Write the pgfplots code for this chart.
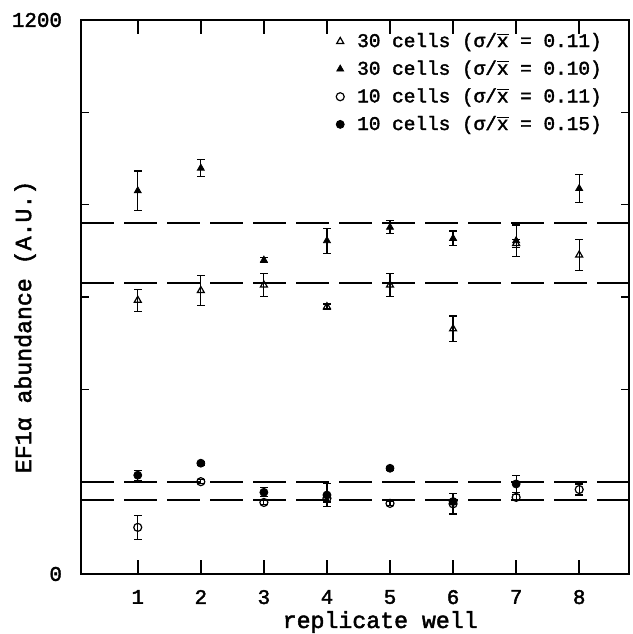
\documentclass[border=0pt]{standalone}
\usepackage{pgfplots}
\pgfplotsset{compat=1.18}
\usepackage{fontspec}
\setmainfont{Liberation Mono}[FakeBold=2]
\usetikzlibrary{calc}
\begin{document}
\begin{tikzpicture}
\begin{axis}[
  name=ax,
  scale only axis,
  width=274pt, height=277pt,
  xmin=0.1, xmax=8.79, ymin=0, ymax=1200,
  xtick={1,2,3,4,5,6,7,8},
  ytick={0,1200},
  minor ytick={200,400,600,800,1000},
  major tick length=7pt,
  minor tick length=4pt,
  tick align=inside,
  tick style={line width=0.8pt, black},
  axis line style={line width=1pt},
  /pgf/number format/assume math mode=true,
  /pgf/number format/1000 sep={},
  ticklabel style={font=\fontsize{10.4}{12}\selectfont},
  xticklabel style={yshift=-4.5pt},
  yticklabel style={xshift=-6pt},
  xlabel={replicate well},
  ylabel={EF1α abundance (A.U.)},
  every axis x label/.style={at={(rel axis cs:0.546,0)}, anchor=center, yshift=-24pt,
    font=\fontsize{11.6}{13}\selectfont},
  every axis y label/.style={at={(rel axis cs:-0.102,0.446)}, anchor=center, rotate=90,
    font=\fontsize{11.6}{13}\selectfont},
  error bars/error bar style={line width=0.6pt, black},
  error bars/error mark options={rotate=90, mark size=1.9pt, line width=0.6pt},
  legend style={draw=none, fill=none, at={(rel axis cs:0.465,0.983)}, anchor=north west,
    font=\fontsize{9.7}{11}\selectfont, row sep=2.2pt, inner sep=0pt,
    nodes={inner sep=1.5pt}},
  legend cell align=left,
  legend image code/.code={\path[draw=none, fill=none] (-2pt,0pt) rectangle (7pt,0.1pt); \draw[#1] plot coordinates {(0pt,0pt)};},
  clip=false,
]
\addplot[only marks, mark=triangle, mark size=2pt, black, mark options={line width=0.6pt},
  error bars/.cd, y dir=both, y explicit]
  coordinates {
  (1,593) +- (0,24)
  (2,614) +- (0,32)
  (3,626) +- (0,25)
  (4,579) +- (0,6)
  (5,626) +- (0,25)
  (6,531) +- (0,28)
  (7,716) +- (0,8)
  (8,691) +- (0,34)
  };
\addlegendentry{30 cells (σ/$\overline{\mbox{x}}$ = 0.11)}
\addplot[only marks, mark=triangle*, mark size=2pt, black,
  error bars/.cd, y dir=both, y explicit]
  coordinates {
  (1,830) +- (0,43)
  (2,879) +- (0,18)
  (3,680) +- (0,6)
  (4,722) +- (0,27)
  (5,751) +- (0,14)
  (6,727) +- (0,16)
  (7,722) +- (0,34)
  (8,835) +- (0,31)
  };
\addlegendentry{30 cells (σ/$\overline{\mbox{x}}$ = 0.10)}
\addplot[only marks, mark=o, mark size=2pt, black, mark options={line width=0.6pt},
  error bars/.cd, y dir=both, y explicit]
  coordinates {
  (1,101) +- (0,26)
  (2,200) +- (0,4)
  (3,155) +- (0,4)
  (4,164) +- (0,8)
  (5,153) +- (0,4)
  (6,152) +- (0,22)
  (7,166) +- (0,6)
  (8,183) +- (0,12)
  };
\addlegendentry{10 cells (σ/$\overline{\mbox{x}}$ = 0.11)}
\addplot[only marks, mark=*, mark size=2pt, black,
  error bars/.cd, y dir=both, y explicit]
  coordinates {
  (1,214) +- (0,11)
  (2,240) +- (0,4)
  (3,177) +- (0,10)
  (4,171) +- (0,25)
  (5,229) +- (0,4)
  (6,157) +- (0,5)
  (7,195) +- (0,19)
  };
\addlegendentry{10 cells (σ/$\overline{\mbox{x}}$ = 0.15)}
\addplot[forget plot, black, line width=1pt, dash pattern=on 16.5pt off 5pt] coordinates {(0.1,761) (8.79,761)};
\addplot[forget plot, black, line width=1pt, dash pattern=on 16.5pt off 5pt] coordinates {(0.1,630) (8.79,630)};
\addplot[forget plot, black, line width=1pt, dash pattern=on 16.5pt off 5pt] coordinates {(0.1,199) (8.79,199)};
\addplot[forget plot, black, line width=1pt, dash pattern=on 16.5pt off 5pt] coordinates {(0.1,160) (8.79,160)};
\end{axis}
\pgfresetboundingbox
\path ($(ax.south west)+(-40.5pt,-30pt)$) rectangle ($(ax.north east)+(1.5pt,10pt)$);
\end{tikzpicture}
\end{document}
